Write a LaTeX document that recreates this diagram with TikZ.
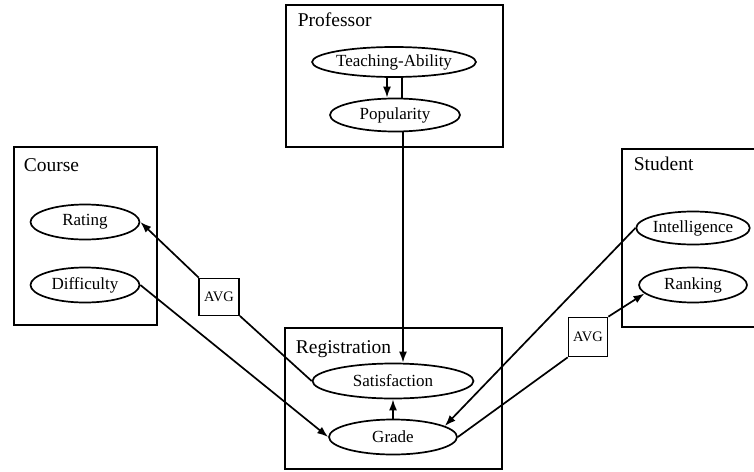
\documentclass[tikz,border=0pt]{standalone}
\usepackage{fontspec}
\setmainfont{Liberation Serif}
\usetikzlibrary{arrows.meta, shapes.geometric}

\begin{document}
\begin{tikzpicture}[x=1pt, y=-1pt, line width=1.7pt,
      >={Latex[length=11pt,width=8pt]},
      every node/.append style={font=\fontsize{17}{20}\selectfont, inner sep=0pt}]
    \tikzstyle{attr} = [draw, ellipse, minimum height=34pt]
    \tikzstyle{frame} = [draw, rectangle]
    \tikzstyle{avg} = [draw, rectangle, font=\fontsize{14.5}{17}\selectfont]
    \tikzstyle{title} = [anchor=base west, font=\fontsize{19.5}{22}\selectfont]
    \useasboundingbox (0,0) rectangle (754,471);
    \clip (0,0) rectangle (754,471);
    % classes
    \node (professor) [frame, minimum width=217pt, minimum height=142pt] at (394.5,76) {};
    \node (course) [frame, minimum width=143pt, minimum height=178pt] at (85.5,236) {};
    \node (registration) [frame, minimum width=217pt, minimum height=141pt] at (393.5,398.5) {};
    \node (student) [frame, minimum width=178pt, minimum height=178pt] at (711,238) {};
    \node (professortitle) [title] at (297,26) {Professor};
    \node (coursetitle) [title] at (23,171) {Course};
    \node (registrationtitle) [title] at (295,353) {Registration};
    \node (studenttitle) [title] at (633,170) {Student};
    % attributes
    \node (ta) [attr, minimum width=162pt, minimum height=30pt] at (394,62) {Teaching-Ability};
    \node (pop) [attr, minimum width=130pt, minimum height=33pt] at (395,115) {Popularity};
    \node (sat) [attr, minimum width=161pt, minimum height=35pt] at (393,381) {Satisfaction};
    \node (grade) [attr, minimum width=128pt, minimum height=35pt] at (393,437) {Grade};
    \node (rating) [attr, minimum width=109pt, minimum height=35pt] at (85,222) {Rating};
    \node (difficulty) [attr, minimum width=109pt, minimum height=35pt] at (85,285) {Difficulty};
    \node (intelligence) [attr, minimum width=108pt, minimum height=33pt] at (693,228) {Intelligence};
    \node (ranking) [attr, minimum width=108pt, minimum height=35pt] at (693,285) {Ranking};
    \node (avgcourse) [avg, minimum width=40pt, minimum height=37pt] at (219,297) {AVG};
    \node (avgstudent) [avg, minimum width=39pt, minimum height=39pt] at (588,337) {AVG};
    % dependencies
    \draw[->] ([xshift=-7pt]ta.south) -- ([xshift=-7pt]ta.south |- pop.north);
    \draw ([xshift=8pt]ta.south) -- ([xshift=8pt]ta.south |- pop.north);
    \draw[->] ([xshift=8pt]pop.south) -- ([xshift=8pt]pop.south |- sat.north);
    \draw[->] (grade) -- (sat);
    \draw (sat.west) -- (avgcourse);
    \draw[->] (avgcourse) -- (rating.east);
    \draw[->] (difficulty.east) -- (grade.west);
    \draw[->] (intelligence.west) -- (grade.12);
    \draw (grade.east) -- (avgstudent.south west);
    \draw[->] (avgstudent.north east) -- (ranking.190);
\end{tikzpicture}
\end{document}
